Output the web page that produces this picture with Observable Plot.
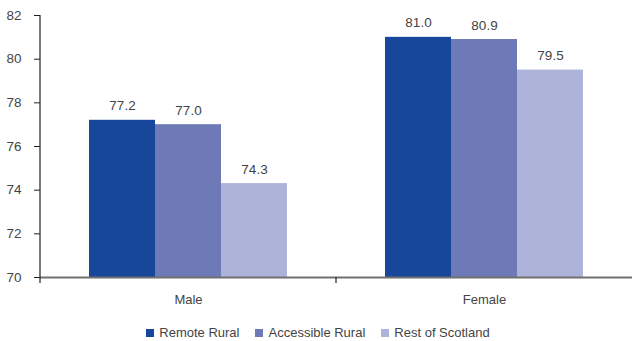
<!DOCTYPE html>
<html>
<head>
<meta charset="utf-8">
<script src="https://cdn.jsdelivr.net/npm/d3@7"></script>
<script src="https://cdn.jsdelivr.net/npm/@observablehq/plot@0.6"></script>
<style>
  html, body { margin: 0; padding: 0; background: #fff; }
  body { width: 632px; height: 341px; overflow: hidden; font-family: "Liberation Sans", Arial, sans-serif; }
  #chart { height: 320px; }
  #legend { display: flex; justify-content: center; align-items: center; gap: 16px; height: 15px; line-height: 15px; margin-top: 5px; font-size: 13px; color: #444; padding-left: 4px; }
  #legend .item { display: flex; align-items: center; gap: 5px; }
  #legend .sw { width: 8px; height: 8px; display: inline-block; }
</style>
</head>
<body>
<div id="chart"></div>
<div id="legend"></div>
<script>
const sexes = ["Male", "Female"];
const regions = ["Remote Rural", "Accessible Rural", "Rest of Scotland"];
const maleValues = [77.2, 77.0, 74.3];
const femaleValues = [81.0, 80.9, 79.5];
const colors = ["#16479b", "#6e7ab7", "#adb3d9"];
const yTicks = [70, 72, 74, 76, 78, 80, 82];

const data = [
  ...regions.map((r, i) => ({sex: "Male", region: r, value: maleValues[i]})),
  ...regions.map((r, i) => ({sex: "Female", region: r, value: femaleValues[i]}))
];

const font = '"Liberation Sans", Arial, sans-serif';
const plot = Plot.plot({
  width: 632,
  height: 320,
  marginLeft: 40,
  marginRight: 0,
  marginTop: 15,
  marginBottom: 43,
  style: {fontFamily: font, fontSize: "13px", color: "#444", background: "#fff", display: "block"},
  fx: {domain: sexes, padding: 0, label: null},
  x: {domain: regions, paddingInner: 0, paddingOuter: 0.73, axis: null},
  y: {domain: [70, 82], label: null},
  color: {domain: regions, range: colors},
  marks: [
    Plot.barY(data, {fx: "sex", x: "region", y1: 70, y2: "value", fill: "region"}),
    Plot.text(data, {fx: "sex", x: "region", y: "value", text: d => d.value.toFixed(1), dy: -10, lineAnchor: "bottom", fill: "#444", fontSize: 13.5}),
    Plot.ruleY([70], {stroke: "#707070", strokeWidth: 2}),
    Plot.axisY({ticks: yTicks, tickSize: 6, tickPadding: 13, label: null, tickFormat: d => d, stroke: "#222", fill: "#444", fontSize: 13.5}),
    Plot.axisFx({anchor: "bottom", tickSize: 0, tickPadding: 17, label: null, fill: "#444", fontSize: 13})
  ]
});
document.getElementById("chart").appendChild(plot);

// axis line and category separator, positioned via the plot's own scales
const ys = plot.scale("y"), fxs = plot.scale("fx");
const svg = d3.select(plot);
const x0 = fxs.apply(sexes[0]);
svg.append("line")
  .attr("x1", x0).attr("x2", x0)
  .attr("y1", ys.apply(yTicks[yTicks.length - 1])).attr("y2", ys.apply(yTicks[0]) + 6)
  .attr("stroke", "#222").attr("stroke-width", 1.2);
const xs = fxs.apply(sexes[1]);
svg.append("line")
  .attr("x1", xs).attr("x2", xs)
  .attr("y1", ys.apply(yTicks[0])).attr("y2", ys.apply(yTicks[0]) + 6)
  .attr("stroke", "#222").attr("stroke-width", 1.2);

const legend = d3.select("#legend");
regions.forEach((r, i) => {
  const it = legend.append("div").attr("class", "item");
  it.append("span").attr("class", "sw").style("background", colors[i]);
  it.append("span").text(r);
});
</script>
</body>
</html>
